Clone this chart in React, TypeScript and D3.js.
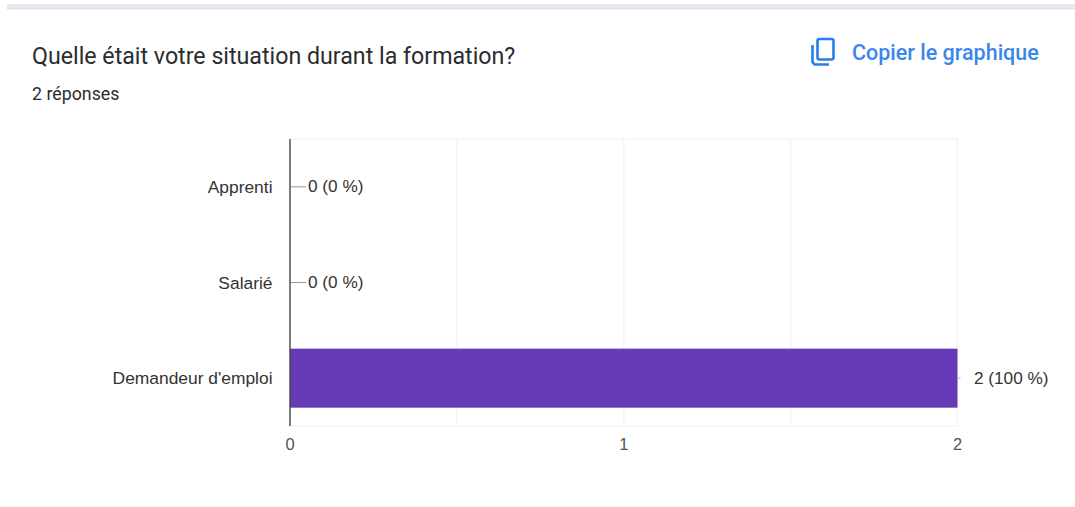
import { useEffect, useRef } from "react";
import * as d3 from "d3";

const categories = ["Apprenti", "Salarié", "Demandeur d'emploi"];
const counts = [0, 0, 2];
const valueLabels = ["0 (0 %)", "0 (0 %)", "2 (100 %)"];
const majorTicks = [0, 1, 2];
const gridTicks = [0.5, 1, 1.5, 2];

const width = 1075;
const height = 507;
const margin = { top: 139, right: 117.5, bottom: 81, left: 290 };
const font = "Roboto, sans-serif";
const chartFont = "Liberation Sans, Arial, sans-serif";

export default function App() {
    const svgRef = useRef<SVGSVGElement>(null);

    useEffect(() => {
        const svg = d3.select(svgRef.current);
        svg.selectAll("*").remove();

        // top strip of the page behind the card
        svg.append("rect").attr("x", 7).attr("y", 4).attr("width", width - 7).attr("height", 4).attr("fill", "#e9e7f4");
        svg.append("rect").attr("x", 7).attr("y", 8).attr("width", width - 7).attr("height", 1.5).attr("fill", "#e4e4e6");

        svg.append("text")
            .attr("x", 32).attr("y", 63.5)
            .attr("font-family", font).attr("font-size", 23.2)
            .attr("fill", "#2b2c30")
            .text("Quelle était votre situation durant la formation?");
        svg.append("text")
            .attr("x", 32).attr("y", 99.5)
            .attr("font-family", font).attr("font-size", 17.8)
            .attr("fill", "#2b2c30")
            .text("2 réponses");

        // copy icon
        const icon = svg.append("g").attr("fill", "none").attr("stroke", "#2a7de9").attr("stroke-width", 2.6);
        icon.append("rect").attr("x", 817.5).attr("y", 39).attr("width", 16).attr("height", 20.5).attr("rx", 2);
        icon.append("path").attr("d", d3.line()([[812.5, 45], [812.5, 62], [814.5, 64.5], [829, 64.5]]));
        svg.append("text")
            .attr("x", 852).attr("y", 59.5)
            .attr("font-family", font).attr("font-weight", 500).attr("font-size", 21.5)
            .attr("fill", "#3b86ec")
            .text("Copier le graphique");

        const x = d3.scaleLinear().domain([0, 2]).range([margin.left, width - margin.right]);
        const y = d3.scaleBand<string>()
            .domain(categories)
            .range([margin.top, height - margin.bottom])
            .paddingInner(0.383)
            .paddingOuter(0.1915);

        const plotTop = margin.top;
        const plotBottom = height - margin.bottom;

        // gridlines
        svg.append("g").selectAll("line").data(gridTicks).join("line")
            .attr("x1", d => x(d)).attr("x2", d => x(d))
            .attr("y1", plotTop).attr("y2", plotBottom)
            .attr("stroke", "#f5f5f6").attr("stroke-width", 1.5);
        svg.append("g").selectAll("line").data([plotTop, plotBottom]).join("line")
            .attr("x1", x(0)).attr("x2", x(2))
            .attr("y1", d => d).attr("y2", d => d)
            .attr("stroke", "#f5f5f6").attr("stroke-width", 1.5);

        // bars
        svg.append("g").selectAll("rect").data(categories).join("rect")
            .attr("x", x(0))
            .attr("y", d => y(d)!)
            .attr("width", (d, i) => x(counts[i]) - x(0))
            .attr("height", y.bandwidth())
            .attr("fill", "#673ab7");

        // baseline
        svg.append("line")
            .attr("x1", x(0)).attr("x2", x(0))
            .attr("y1", plotTop).attr("y2", plotBottom)
            .attr("stroke", "#444").attr("stroke-width", 1.4);

        // category labels
        svg.append("g").selectAll("text").data(categories).join("text")
            .attr("x", x(0) - 17.5)
            .attr("y", d => y(d)! + y.bandwidth() / 2 + 6)
            .attr("text-anchor", "end")
            .attr("font-family", chartFont).attr("font-size", 17.4)
            .attr("fill", "#333")
            .text(d => d);

        // leader lines and value labels
        svg.append("g").selectAll("line").data(categories).join("line")
            .attr("x1", (d, i) => x(counts[i]) + 1)
            .attr("x2", (d, i) => x(counts[i]) + (counts[i] ? 3 : 16))
            .attr("y1", d => y(d)! + y.bandwidth() / 2)
            .attr("y2", d => y(d)! + y.bandwidth() / 2)
            .attr("stroke", "#999").attr("stroke-width", 1);
        svg.append("g").selectAll("text").data(valueLabels).join("text")
            .attr("x", (d, i) => x(counts[i]) + (counts[i] ? 16.5 : 18))
            .attr("y", (d, i) => y(categories[i])! + y.bandwidth() / 2 + 5.5)
            .attr("font-family", chartFont).attr("font-size", 17.2)
            .attr("fill", "#333")
            .text(d => d);

        // x axis labels
        svg.append("g").selectAll("text").data(majorTicks).join("text")
            .attr("x", d => x(d))
            .attr("y", 450)
            .attr("text-anchor", "middle")
            .attr("font-family", chartFont).attr("font-size", 16.5)
            .attr("fill", "#555")
            .text(d => d);
    }, []);

    return (
        <svg
            ref={svgRef}
            width={width}
            height={height}
            style={{ position: "absolute", top: 0, left: 0, background: "#fff" }}
        />
    );
}
